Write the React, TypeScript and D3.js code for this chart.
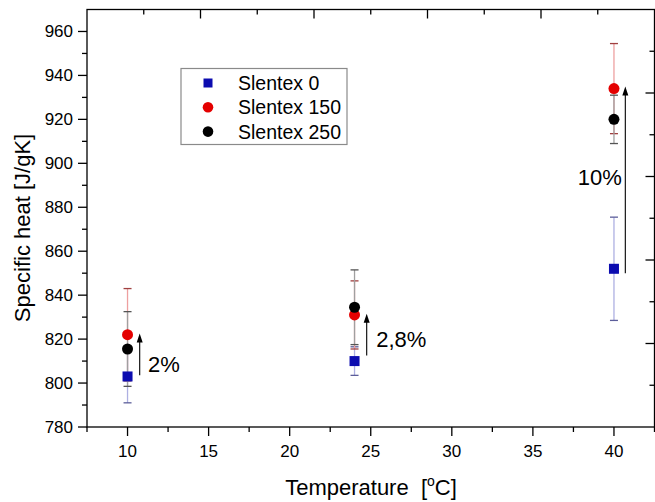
import React, { useEffect, useRef } from "react";
import * as d3 from "d3";

// temperatures [°C] and specific heat [J/gK] per material
const temperatures = [10, 24, 40];
const slentex0 = [803, 810, 852];
const slentex0Err = [12, 6.5, 23.5];
const slentex150 = [822, 831, 934];
const slentex150Err = [21, 15.5, 20.5];
const slentex250 = [815.5, 834.5, 920];
const slentex250Err = [17, 17, 11];

// arrows showing increase, and their labels
const arrowT = [10.75, 24.75, 40.7];
const arrowFrom = [803.5, 812.5, 850];
const arrowTo = [822.5, 831.5, 935];
const arrowLabels = ["2%", "2,8%", "10%"];
const labelT = [11.26, 25.34, 40.49];
const labelV = [805.2, 816.5, 890.1];
const labelAnchor = ["start", "start", "end"];

const xTicks = [10, 15, 20, 25, 30, 35, 40];
const yTicks = [780, 800, 820, 840, 860, 880, 900, 920, 940, 960];

const W = 655;
const H = 502;
const left = 87;
const right = 654.5;
const top = 9.5;
const bottom = 427;
const font = "'Liberation Sans', Arial, sans-serif";

function App() {
  const svgRef = useRef(null);

  useEffect(() => {
    const svg = d3.select(svgRef.current);
    svg.selectAll("*").remove();

    const x = d3.scaleLinear().domain([7.5, 42.5]).range([left, right]);
    const y = d3.scaleLinear().domain([780, 970]).range([bottom, top]);
    // the mirrored frame axes are just split in 10 equal parts
    const xTop = d3.scaleLinear().domain([0, 10]).range([left, right]);
    const yRight = d3.scaleLinear().domain([0, 10]).range([bottom, top]);

    const series = [
      { name: "Slentex 0", vals: slentex0, errs: slentex0Err, shape: "square", color: "#0c0cb0", bar: "#aeb0e2", cap: "#5c5e9a" },
      { name: "Slentex 150", vals: slentex150, errs: slentex150Err, shape: "circle", color: "#e40000", bar: "#eea0a0", cap: "#a04040" },
      { name: "Slentex 250", vals: slentex250, errs: slentex250Err, shape: "circle", color: "#000000", bar: "#a0a0a0", cap: "#555555" }
    ];

    // frame
    svg.append("rect")
      .attr("x", left).attr("y", top)
      .attr("width", right - left).attr("height", bottom - top)
      .attr("fill", "none").attr("stroke", "#000").attr("stroke-width", 1.3);

    // bottom axis
    const xMinor = d3.range(7.5, 42.6, 2.5).filter(v => !xTicks.includes(v));
    const gx = svg.append("g").attr("transform", `translate(0,${bottom})`);
    gx.selectAll("line.minor").data(xMinor).join("line")
      .attr("x1", d => x(d)).attr("x2", d => x(d))
      .attr("y1", 0).attr("y2", 5)
      .attr("stroke", "#000").attr("stroke-width", 1.3);
    gx.selectAll("line.major").data(xTicks).join("line")
      .attr("x1", d => x(d)).attr("x2", d => x(d))
      .attr("y1", 0).attr("y2", 9)
      .attr("stroke", "#000").attr("stroke-width", 1.3);
    gx.selectAll("text").data(xTicks).join("text")
      .attr("x", d => x(d)).attr("y", 30)
      .attr("text-anchor", "middle")
      .attr("font-family", font).attr("font-size", 17)
      .text(d => d);

    // left axis
    const yMinor = d3.range(790, 970, 20);
    const gy = svg.append("g").attr("transform", `translate(${left},0)`);
    gy.selectAll("line.minor").data(yMinor).join("line")
      .attr("x1", 0).attr("x2", -5)
      .attr("y1", d => y(d)).attr("y2", d => y(d))
      .attr("stroke", "#000").attr("stroke-width", 1.3);
    gy.selectAll("line.major").data(yTicks).join("line")
      .attr("x1", 0).attr("x2", -9)
      .attr("y1", d => y(d)).attr("y2", d => y(d))
      .attr("stroke", "#000").attr("stroke-width", 1.3);
    gy.selectAll("text").data(yTicks).join("text")
      .attr("x", -14).attr("y", d => y(d) + 6)
      .attr("text-anchor", "end")
      .attr("font-family", font).attr("font-size", 17)
      .text(d => d);

    // top & right ticks (inward)
    const frameIdx = d3.range(1, 10);
    svg.append("g").selectAll("line").data(frameIdx).join("line")
      .attr("x1", d => xTop(d)).attr("x2", d => xTop(d))
      .attr("y1", top).attr("y2", d => top + (d % 2 === 0 ? 9 : 5))
      .attr("stroke", "#000").attr("stroke-width", 1.3);
    svg.append("g").selectAll("line").data(frameIdx).join("line")
      .attr("y1", d => yRight(d)).attr("y2", d => yRight(d))
      .attr("x1", right).attr("x2", d => right - (d % 2 === 0 ? 9 : 5))
      .attr("stroke", "#000").attr("stroke-width", 1.3);

    // axis titles
    const xt = svg.append("text")
      .attr("x", 371).attr("y", 495)
      .attr("text-anchor", "middle")
      .attr("font-family", font).attr("font-size", 22)
      .attr("xml:space", "preserve");
    xt.append("tspan").text("Temperature  [");
    xt.append("tspan").attr("font-size", 14).attr("dy", -9).text("o");
    xt.append("tspan").attr("dy", 9).text("C]");

    svg.append("text")
      .attr("transform", `translate(30,228) rotate(-90)`)
      .attr("text-anchor", "middle")
      .attr("font-family", font).attr("font-size", 22)
      .text("Specific heat [J/gK]");

    // error bars
    series.forEach(s => {
      const g = svg.append("g");
      temperatures.forEach((t, i) => {
        const cx = x(t);
        const lo = y(s.vals[i] - s.errs[i]);
        const hi = y(s.vals[i] + s.errs[i]);
        g.append("line").attr("x1", cx).attr("x2", cx).attr("y1", lo).attr("y2", hi)
          .attr("stroke", s.bar).attr("stroke-width", 1.3);
        [lo, hi].forEach(yy => {
          g.append("line").attr("x1", cx - 4).attr("x2", cx + 4).attr("y1", yy).attr("y2", yy)
            .attr("stroke", s.cap).attr("stroke-width", 1.3);
        });
      });
    });

    // markers
    series.forEach(s => {
      const g = svg.append("g").attr("fill", s.color);
      if (s.shape === "square") {
        g.selectAll("rect").data(temperatures).join("rect")
          .attr("x", d => x(d) - 5).attr("width", 10).attr("height", 10)
          .attr("y", (d, i) => y(s.vals[i]) - 5);
      } else {
        g.selectAll("circle").data(temperatures).join("circle")
          .attr("cx", d => x(d)).attr("r", 5.5)
          .attr("cy", (d, i) => y(s.vals[i]));
      }
    });

    // arrows
    const ga = svg.append("g");
    arrowT.forEach((t, i) => {
      const ax = x(t);
      const y0 = y(arrowFrom[i]);
      const y1 = y(arrowTo[i]);
      ga.append("line").attr("x1", ax).attr("x2", ax).attr("y1", y0).attr("y2", y1 + 8)
        .attr("stroke", "#000").attr("stroke-width", 1.1);
      ga.append("path")
        .attr("d", `M${ax},${y1} L${ax - 3},${y1 + 9} L${ax + 3},${y1 + 9} Z`)
        .attr("fill", "#000");
      ga.append("text")
        .attr("x", x(labelT[i])).attr("y", y(labelV[i]))
        .attr("text-anchor", labelAnchor[i])
        .attr("font-family", font).attr("font-size", 22)
        .text(arrowLabels[i]);
    });

    // legend
    const lg = svg.append("g");
    lg.append("rect")
      .attr("x", 181).attr("y", 68.5).attr("width", 166).attr("height", 76)
      .attr("fill", "#fff").attr("stroke", "#8a8a8a").attr("stroke-width", 1.2);
    series.forEach((s, i) => {
      const ry = 83 + i * 24.3;
      if (s.shape === "square") {
        lg.append("rect").attr("x", 203.5).attr("y", ry - 4.5).attr("width", 9).attr("height", 9).attr("fill", s.color);
      } else {
        lg.append("circle").attr("cx", 208).attr("cy", ry).attr("r", 5.3).attr("fill", s.color);
      }
      lg.append("text")
        .attr("x", 238).attr("y", ry + 7)
        .attr("font-family", font).attr("font-size", 19.5)
        .text(s.name);
    });
  }, []);

  return (
    <svg
      ref={svgRef}
      width={W}
      height={H}
      style={{ position: "absolute", left: 0, top: 0, background: "#fff" }}
    />
  );
}

export default App;
